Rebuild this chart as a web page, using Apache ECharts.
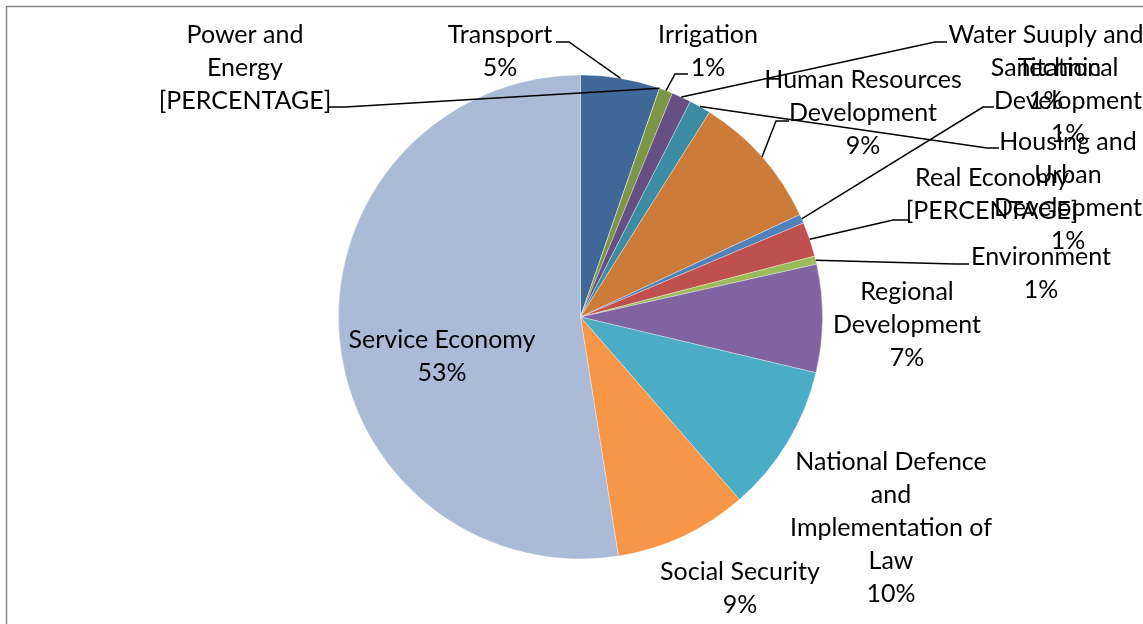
<!DOCTYPE html>
<html>
<head>
<meta charset="utf-8">
<script src="https://cdn.jsdelivr.net/npm/echarts@6/dist/echarts.min.js"></script>
<style>
  html, body { margin: 0; padding: 0; background: #ffffff; }
  #chart { width: 1143px; height: 624px; }
</style>
</head>
<body>
<div id="chart"></div>
<script>
// Budget shares by sector, clockwise from 12 o'clock
const categories = [
  'Transport',
  'Power and\nEnergy',
  'Irrigation',
  'Water Suuply and\nSanitation',
  'Housing and\nUrban\nDevelopment',
  'Human Resources\nDevelopment',
  'Technical\nDevelopment',
  'Real Economy',
  'Environment',
  'Regional\nDevelopment',
  'National Defence\nand\nImplementation of\nLaw',
  'Social Security',
  'Service Economy'
];
const shares = [5.3, 0, 0.9, 1.3, 1.45, 9.1, 0.6, 2.3, 0.55, 7.2, 9.9, 8.9, 52.5];

// Sectors whose label shows the unresolved placeholder instead of a percentage
const placeholderSectors = ['Power and\nEnergy', 'Real Economy'];

const sliceColors = [
  '#3F6797', '#9A403E', '#7C9647', '#665083', '#3C8DA3', '#CC7B38',
  '#4F81BD', '#C0504D', '#9BBB59', '#8064A2', '#4BACC6', '#F79646', '#AABAD7'
];

// Label block centres and the elbow/end of each leader line (px)
const labelSpots = [
  { x: 500, y: 51,  line: [[569, 42], [556, 42]] },
  { x: 245, y: 68,  line: [[345, 107], [329, 107]] },
  { x: 708, y: 51,  line: [[675, 74], [688, 74]] },
  { x: 1046, y: 68, line: [[935, 42], [947, 42]] },
  { x: 1068, y: 191, line: [[987, 148], [999, 148]] },
  { x: 863, y: 113, line: [[776, 121], [789, 121]] },
  { x: 1068, y: 101, line: [[983, 107], [994, 107]] },
  { x: 992, y: 194, line: [[893, 220], [908, 220]] },
  { x: 1041, y: 273, line: [[955, 264], [969, 264]] },
  { x: 907, y: 325 },
  { x: 891, y: 528 },
  { x: 740, y: 588 },
  { x: 442, y: 356 }
];

const PIE_CENTER = [580.5, 317];
const PIE_RADIUS = 242;

// Point on the rim at a sector's mid angle (used if the library gives no guide points)
function rimPoint(index) {
  const total = shares.reduce((a, b) => a + b, 0);
  let before = 0;
  for (let i = 0; i < index; i++) before += shares[i];
  const mid = (before + shares[index] / 2) / total * Math.PI * 2;
  return [PIE_CENTER[0] + PIE_RADIUS * Math.sin(mid), PIE_CENTER[1] - PIE_RADIUS * Math.cos(mid)];
}

const sectorData = categories.map((name, i) => ({
  name: name,
  value: shares[i],
  itemStyle: { color: sliceColors[i] }
}));

// Same sectors again, invisible, so the labels and leader lines sit above every slice
const labelData = categories.map((name, i) => ({
  name: name,
  value: shares[i],
  labelLine: { show: !!labelSpots[i].line }
}));

const pieGeometry = {
  type: 'pie',
  center: PIE_CENTER,
  radius: PIE_RADIUS,
  startAngle: 90,
  clockwise: true,
  avoidLabelOverlap: false,
  percentPrecision: 0,
  minShowLabelAngle: 0,
  emphasis: { disabled: true }
};

const chart = echarts.init(document.getElementById('chart'), null, { renderer: 'canvas' });
chart.setOption({
  animation: false,
  backgroundColor: '#ffffff',
  graphic: [{
    type: 'rect',
    silent: true,
    shape: { x: 6.5, y: 6.5, width: 1400, height: 900 },
    style: { fill: 'none', stroke: '#868686', lineWidth: 1.5 }
  }],
  series: [
    Object.assign({}, pieGeometry, {
      z: 2,
      itemStyle: { borderColor: 'rgba(255,255,255,0.55)', borderWidth: 0.6 },
      label: { show: false },
      labelLine: { show: false },
      data: sectorData
    }),
    Object.assign({}, pieGeometry, {
      z: 3,
      silent: true,
      itemStyle: { color: 'rgba(0,0,0,0)', borderWidth: 0 },
      label: {
        show: true,
        position: 'outside',
        color: '#000000',
        fontFamily: 'Lato',
        fontSize: 25,
        lineHeight: 33,
        formatter: function (p) {
          const tail = placeholderSectors.indexOf(p.name) >= 0 ? '[PERCENTAGE]' : p.percent + '%';
          return p.name + '\n' + tail;
        }
      },
      labelLine: {
        show: true,
        lineStyle: { color: '#000000', width: 1.5 }
      },
      labelLayout: function (params) {
        const spot = labelSpots[params.dataIndex];
        const out = { x: spot.x, y: spot.y, align: 'center', verticalAlign: 'middle' };
        if (spot.line) {
          const start = (params.labelLinePoints && params.labelLinePoints[0])
            ? params.labelLinePoints[0] : rimPoint(params.dataIndex);
          out.labelLinePoints = [[start[0], start[1]], spot.line[0], spot.line[1]];
        }
        return out;
      },
      data: labelData
    })
  ]
});
</script>
</body>
</html>
